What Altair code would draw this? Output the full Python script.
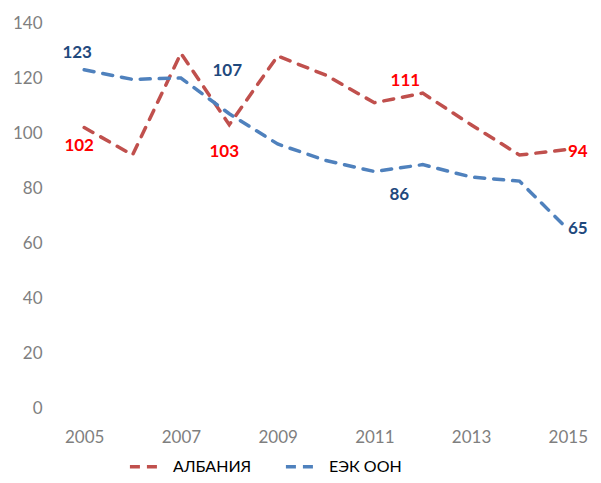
import altair as alt
import pandas as pd

years = [2005, 2006, 2007, 2008, 2009, 2010, 2011, 2012, 2013, 2014, 2015]
albania = [102, 92, 129, 103, 128, 121, 111, 114.5, 103, 92, 94]
unece = [123, 119.5, 120, 107, 96, 90, 86, 88.5, 84, 82.5, 65]
series = ["АЛБАНИЯ", "ЕЭК ООН"]
colors = ["#C0504D", "#4F81BD"]

# labelled points: (series, year, text)
labels = [
    ("АЛБАНИЯ", 2005, "102"),
    ("АЛБАНИЯ", 2008, "103"),
    ("АЛБАНИЯ", 2011, "111"),
    ("АЛБАНИЯ", 2015, "94"),
    ("ЕЭК ООН", 2005, "123"),
    ("ЕЭК ООН", 2008, "107"),
    ("ЕЭК ООН", 2011, "86"),
    ("ЕЭК ООН", 2015, "65"),
]
label_offsets = [(-5, 18), (-5, 27), (31, -22), (10, 2),
                 (-7, -17), (-2, -43), (25, 23), (10, 0)]
label_colors = {"АЛБАНИЯ": "#FF0000", "ЕЭК ООН": "#1F497D"}

rows = []
for y, a, u in zip(years, albania, unece):
    rows.append({"year": y, "value": a, "series": series[0]})
    rows.append({"year": y, "value": u, "series": series[1]})
df = pd.DataFrame(rows)

FONT = "Lato, Noto Sans, sans-serif"

x = alt.X("year:Q", scale=alt.Scale(domain=[2004.5, 2015.5], nice=False, zero=False),
          axis=alt.Axis(values=[2005, 2007, 2009, 2011, 2013, 2015], format="d",
                        domain=False, ticks=False, grid=False, labelPadding=21,
                        labelFontSize=17, labelColor="#7F7F7F", labelFont=FONT,
                        title=None))
y = alt.Y("value:Q", scale=alt.Scale(domain=[0, 140], nice=False),
          axis=alt.Axis(values=[0, 20, 40, 60, 80, 100, 120, 140], domain=False,
                        ticks=False, grid=False, labelPadding=18, labelFontSize=17,
                        labelColor="#7F7F7F", labelFont=FONT, title=None))

lines = alt.Chart(df).mark_line(strokeWidth=3.5, strokeDash=[10, 9], strokeCap="round").encode(
    x=x, y=y,
    color=alt.Color("series:N", scale=alt.Scale(domain=series, range=colors),
                    legend=alt.Legend(title=None, orient="none", direction="horizontal",
                                      legendX=68, legendY=425, symbolType="stroke",
                                      symbolDash=[10, 7], symbolStrokeWidth=3.5,
                                      symbolSize=1100, labelFontSize=16, labelFont=FONT,
                                      labelColor="#000000", columnPadding=26,
                                      labelOffset=8, symbolOffset=0)),
)

layers = [lines]
lookup = {(s, yr): v for s, vals in zip(series, [albania, unece]) for yr, v in zip(years, vals)}
for (s, yr, txt), (dx, dy) in zip(labels, label_offsets):
    ldf = pd.DataFrame([{"year": yr, "value": lookup[(s, yr)], "text": txt}])
    layers.append(
        alt.Chart(ldf).mark_text(fontSize=17, fontWeight="bold", font=FONT,
                                 color=label_colors[s], dx=dx, dy=dy,
                                 align="center", baseline="middle").encode(
            x=alt.X("year:Q"), y=alt.Y("value:Q"), text="text:N")
    )

chart = alt.layer(*layers).properties(
    width=532, height=385,
    padding={"left": 52, "top": 15, "right": 0, "bottom": 67},
    autosize=alt.AutoSizeParams(type="none"),
).configure_view(stroke=None)

chart.save("out.html", embed_options={"renderer": "svg", "actions": False})
